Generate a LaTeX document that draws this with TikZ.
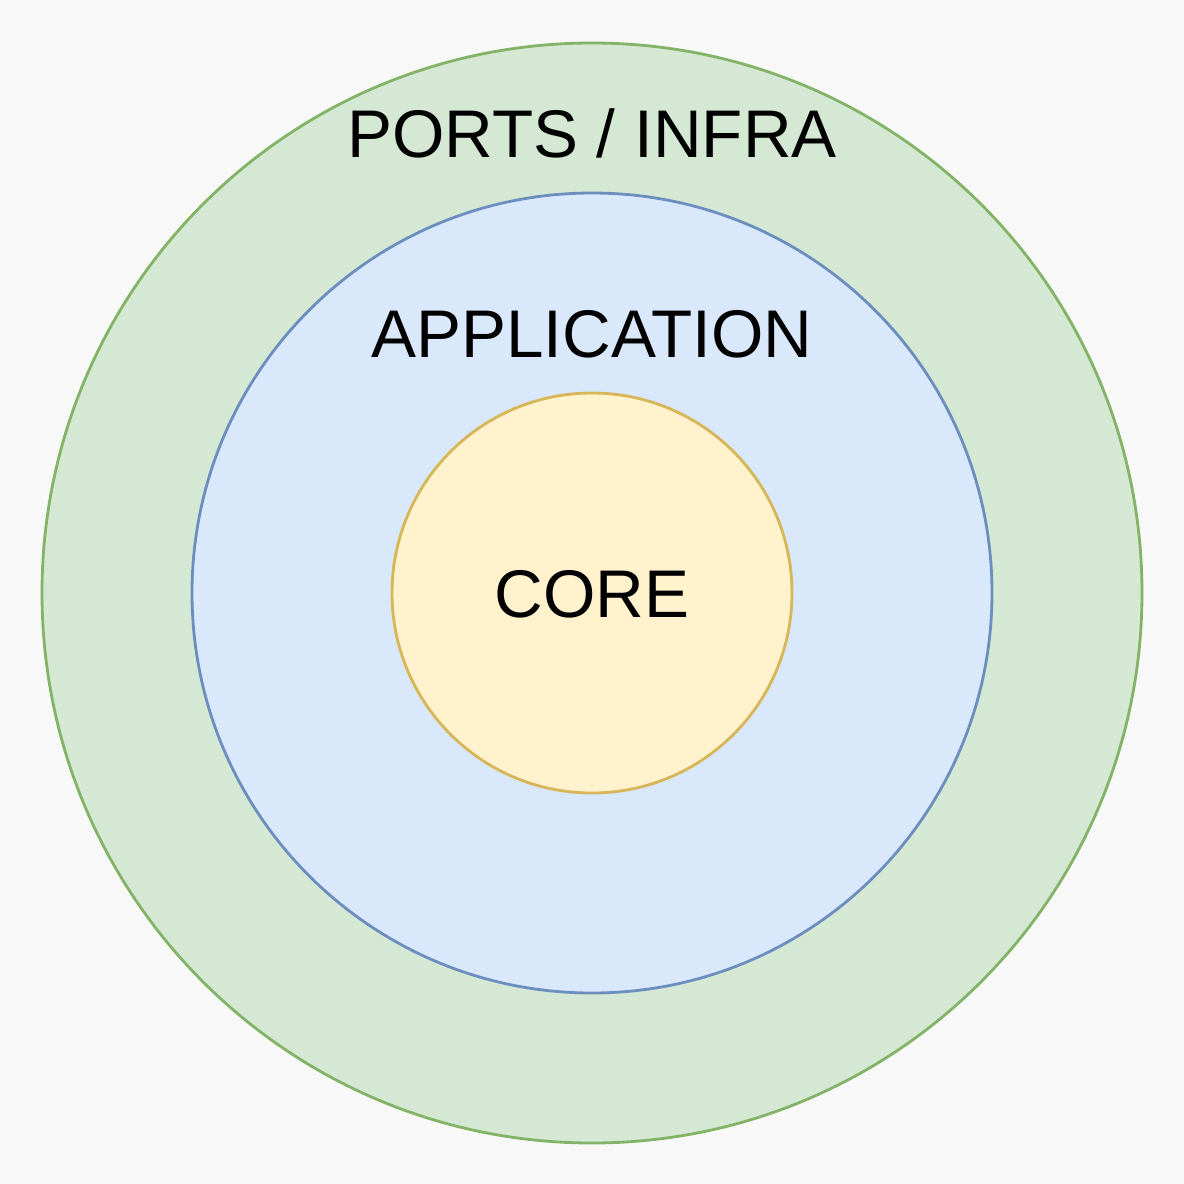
\documentclass[tikz,border=0pt]{standalone}
\usepackage{fontspec}
\setmainfont{Liberation Sans}
\definecolor{bgc}{HTML}{F8F8F8}
\definecolor{gfill}{HTML}{D5E8D4}
\definecolor{gline}{HTML}{82B366}
\definecolor{bfill}{HTML}{DAE8FC}
\definecolor{bline}{HTML}{6C8EBF}
\definecolor{yfill}{HTML}{FFF2CC}
\definecolor{yline}{HTML}{D6B656}
\begin{document}
\begin{tikzpicture}[x=0.5pt,y=-0.5pt,
  ring/.style={circle,line width=1.4pt,inner sep=0pt},
  lbl/.style={anchor=base,inner sep=0pt,font=\fontsize{33.7pt}{40pt}\selectfont}]
\fill[bgc] (0,0) rectangle (1184,1184);
\useasboundingbox (0,0) rectangle (1184,1184);
\node[ring,draw=gline,fill=gfill,minimum size=550pt] (outer) at (592,593) {};
\node[ring,draw=bline,fill=bfill,minimum size=400pt] (mid) at (592,593) {};
\node[ring,draw=yline,fill=yfill,minimum size=200pt] (core) at (592,593) {};
\node[lbl] (t1) at (592,157) {PORTS / INFRA};
\node[lbl] (t2) at (592,357) {APPLICATION};
\node[lbl] (t3) at (592,617) {CORE};
\end{tikzpicture}
\end{document}
